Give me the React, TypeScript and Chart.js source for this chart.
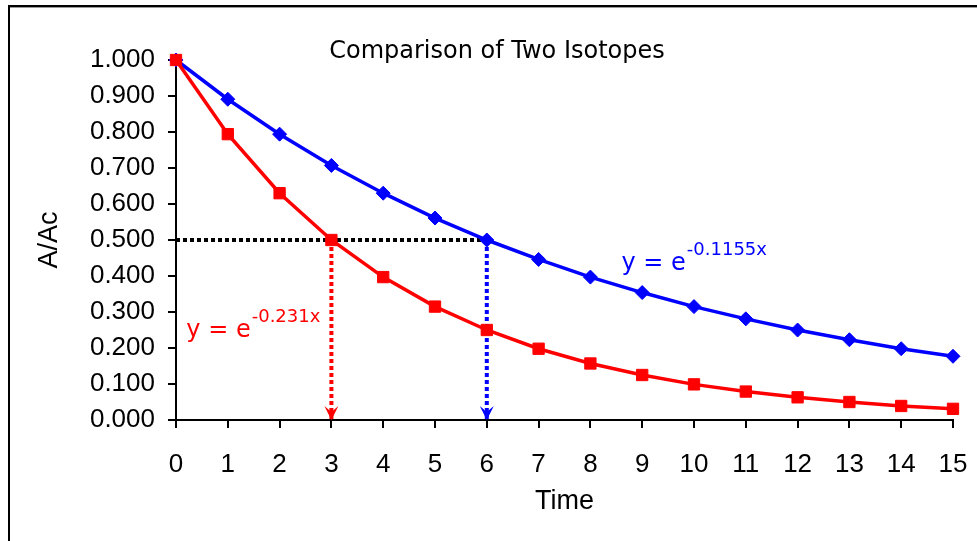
import React, { useEffect, useRef } from "react";
import { Chart, registerables } from "chart.js";

Chart.register(...registerables);

// ---- data ----
const chartTitle = "Comparison of Two Isotopes";
const xAxisTitle = "Time";
const yAxisTitle = "A/Ac";

const times = [0, 1, 2, 3, 4, 5, 6, 7, 8, 9, 10, 11, 12, 13, 14, 15];
// fast-decaying isotope (red squares)
const isotopeFast = [1.0, 0.794, 0.63, 0.5, 0.397, 0.315, 0.25, 0.198, 0.157, 0.125, 0.099, 0.079, 0.063, 0.05, 0.039, 0.031];
// slow-decaying isotope (blue diamonds)
const isotopeSlow = [1.0, 0.891, 0.794, 0.707, 0.63, 0.561, 0.5, 0.446, 0.397, 0.354, 0.315, 0.281, 0.25, 0.223, 0.198, 0.177];

const yTickMin = 0;
const yTickMax = 1;
const yTickStep = 0.1;
const xTickMin = 0;
const xTickMax = 15;

// half-life guides
const halfLevel = 0.5;
const halfTimeFast = 3;
const halfTimeSlow = 6;

// equation annotations (anchor in data units)
const eqBase = ["y = e", "y = e"];
const eqSup = ["-0.231x", "-0.1155x"];
const eqAtX = [0.2, 8.6];
const eqAtY = [0.23, 0.417];
const eqColor = ["#FF0000", "#0000FF"];

const RED = "#FF0000";
const BLUE = "#0000FF";

const framePlugin = {
  id: "frameAndTitle",
  beforeDraw(chart: any) {
    const { ctx, width, height } = chart;
    ctx.save();
    ctx.fillStyle = "#ffffff";
    ctx.fillRect(0, 0, width, height);
    ctx.fillStyle = "#000000";
    ctx.fillRect(8, 5, width, 2);
    ctx.fillRect(8, 5, 2, height);
    ctx.fillStyle = "#9a9a9a";
    ctx.fillRect(10, 7, width, 1);
    ctx.font = '24px "DejaVu Sans"';
    ctx.textAlign = "center";
    ctx.textBaseline = "alphabetic";
    ctx.fillStyle = "#000000";
    ctx.fillText(chartTitle, 497, 58);
    ctx.restore();
  },
};

const overlayPlugin = {
  id: "arrowsAndEquations",
  afterDatasetsDraw(chart: any) {
    const { ctx } = chart;
    const xs = chart.scales.x;
    const ys = chart.scales.y;
    ctx.save();
    chart.data.datasets.forEach((ds: any, i: number) => {
      if (!ds.arrow) return;
      const meta = chart.getDatasetMeta(i);
      const last = meta.data[meta.data.length - 1];
      const px = last.x;
      const py = last.y;
      ctx.fillStyle = ds.borderColor;
      ctx.beginPath();
      ctx.moveTo(px, py);
      ctx.lineTo(px - 7, py - 14);
      ctx.lineTo(px, py - 8);
      ctx.lineTo(px + 7, py - 14);
      ctx.closePath();
      ctx.fill();
    });
    ctx.textAlign = "left";
    ctx.textBaseline = "alphabetic";
    eqBase.forEach((base, i) => {
      const px = xs.getPixelForValue(eqAtX[i]);
      const py = ys.getPixelForValue(eqAtY[i]);
      ctx.fillStyle = eqColor[i];
      ctx.font = '24px "DejaVu Sans"';
      ctx.fillText(base, px, py);
      const w = ctx.measureText(base).width;
      ctx.font = '18px "DejaVu Sans"';
      ctx.fillText(eqSup[i], px + w + 1, py - 15);
    });
    ctx.restore();
  },
};

export default function App() {
  const canvasRef = useRef<HTMLCanvasElement | null>(null);

  useEffect(() => {
    if (!canvasRef.current) return;
    const toPts = (vals: number[]) => times.map((t, i) => ({ x: t, y: vals[i] }));
    const chart = new Chart(canvasRef.current, {
      type: "line",
      data: {
        datasets: [
          {
            label: "fast",
            data: toPts(isotopeFast),
            borderColor: RED,
            backgroundColor: RED,
            borderWidth: 3.5,
            pointStyle: "rect",
            pointRadius: 8,
            pointBorderWidth: 1,
            tension: 0,
            clip: false,
          } as any,
          {
            label: "slow",
            data: toPts(isotopeSlow),
            borderColor: BLUE,
            backgroundColor: BLUE,
            borderWidth: 3.5,
            pointStyle: "rectRot",
            pointRadius: 7,
            pointBorderWidth: 1,
            tension: 0,
            clip: false,
          } as any,
          {
            label: "half level",
            data: [
              { x: xTickMin, y: halfLevel },
              { x: halfTimeSlow, y: halfLevel },
            ],
            borderColor: "#000000",
            borderWidth: 4,
            borderDash: [4, 3],
            pointRadius: 0,
          } as any,
          {
            label: "fast half-life",
            data: [
              { x: halfTimeFast, y: halfLevel },
              { x: halfTimeFast, y: yTickMin },
            ],
            borderColor: RED,
            borderWidth: 4,
            borderDash: [4, 3],
            pointRadius: 0,
            arrow: true,
          } as any,
          {
            label: "slow half-life",
            data: [
              { x: halfTimeSlow, y: halfLevel },
              { x: halfTimeSlow, y: yTickMin },
            ],
            borderColor: BLUE,
            borderWidth: 4,
            borderDash: [4, 3],
            pointRadius: 0,
            arrow: true,
          } as any,
        ],
      },
      options: {
        animation: false,
        responsive: true,
        maintainAspectRatio: false,
        layout: { padding: { left: 0, right: 24, top: 60, bottom: 0 } },
        plugins: {
          legend: { display: false },
          tooltip: { enabled: false },
          title: { display: false },
        },
        scales: {
          x: {
            type: "linear",
            min: xTickMin,
            max: xTickMax,
            ticks: {
              stepSize: 1,
              autoSkip: false,
              maxRotation: 0,
              color: "#000000",
              padding: 21,
              font: { family: "Liberation Sans", size: 26 },
            },
            grid: {
              drawOnChartArea: false,
              drawTicks: true,
              tickLength: 8,
              color: "#000000",
              lineWidth: 2,
            },
            border: { display: true, color: "#000000", width: 2 },
            title: {
              display: true,
              text: xAxisTitle,
              color: "#000000",
              font: { family: "Liberation Sans", size: 27 },
              padding: { top: 0, bottom: 23 },
            },
            afterFit(scale: any) {
              scale.height = 121;
              scale.paddingLeft = 0;
              scale.paddingRight = 0;
            },
          },
          y: {
            type: "linear",
            min: yTickMin,
            max: yTickMax,
            ticks: {
              stepSize: yTickStep,
              color: "#000000",
              padding: 13,
              font: { family: "Liberation Sans", size: 26 },
              callback: (v: any) => Number(v).toFixed(3),
            },
            grid: {
              drawOnChartArea: false,
              drawTicks: true,
              tickLength: 8,
              color: "#000000",
              lineWidth: 2,
            },
            border: { display: true, color: "#000000", width: 2 },
            title: {
              display: true,
              text: yAxisTitle,
              color: "#000000",
              font: { family: "Liberation Sans", size: 27 },
              padding: { top: 33, bottom: 0 },
            },
            afterFit(scale: any) {
              scale.width = 176;
              scale.paddingTop = 0;
              scale.paddingBottom = 0;
            },
          },
        },
      } as any,
      plugins: [framePlugin, overlayPlugin],
    });
    return () => chart.destroy();
  }, []);

  return (
    <div style={{ position: "absolute", left: 0, top: 0, width: 977, height: 541, overflow: "hidden" }}>
      <canvas ref={canvasRef} />
    </div>
  );
}
